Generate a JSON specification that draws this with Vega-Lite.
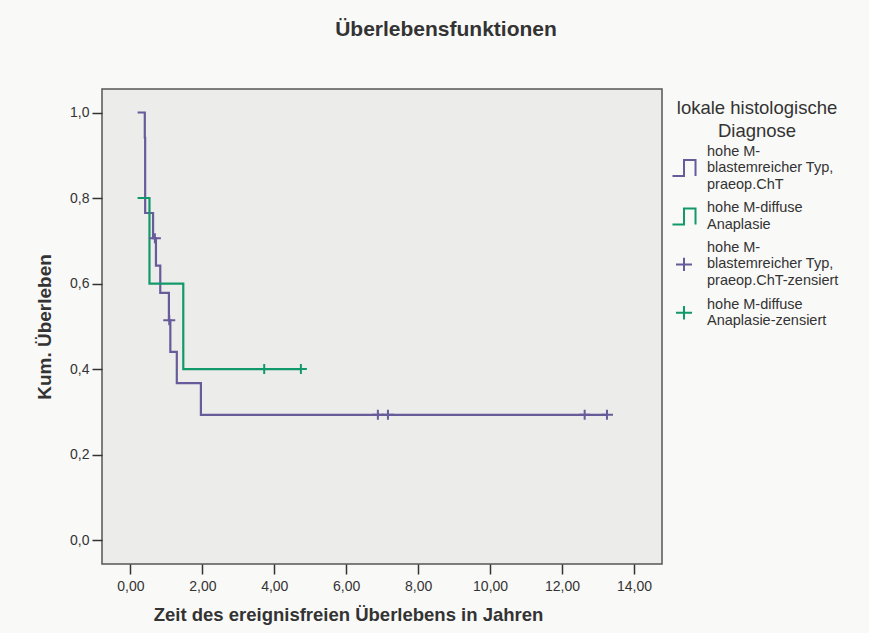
{
  "$schema": "https://vega.github.io/schema/vega-lite/v6.json",
  "autosize": "none",
  "width": 560,
  "height": 475,
  "padding": {"left": 102, "top": 89, "right": 207, "bottom": 69},
  "background": "#f9f9f7",
  "title": {
    "text": "Überlebensfunktionen",
    "font": "Liberation Sans",
    "fontSize": 21,
    "fontWeight": "bold",
    "color": "#333333",
    "anchor": "middle",
    "dx": 64,
    "offset": 49
  },
  "data": {
    "values": [
      {"t": 0.20, "s": 1.0, "series": "blast", "kind": "line"},
      {"t": 0.40, "s": 0.941, "series": "blast", "kind": "line"},
      {"t": 0.41, "s": 0.765, "series": "blast", "kind": "line"},
      {"t": 0.63, "s": 0.706, "series": "blast", "kind": "line"},
      {"t": 0.71, "s": 0.642, "series": "blast", "kind": "line"},
      {"t": 0.83, "s": 0.578, "series": "blast", "kind": "line"},
      {"t": 1.07, "s": 0.514, "series": "blast", "kind": "line"},
      {"t": 1.11, "s": 0.440, "series": "blast", "kind": "line"},
      {"t": 1.29, "s": 0.367, "series": "blast", "kind": "line"},
      {"t": 1.96, "s": 0.293, "series": "blast", "kind": "line"},
      {"t": 13.25, "s": 0.293, "series": "blast", "kind": "line"},
      {"t": 0.20, "s": 0.8, "series": "diffus", "kind": "line"},
      {"t": 0.53, "s": 0.6, "series": "diffus", "kind": "line"},
      {"t": 1.47, "s": 0.4, "series": "diffus", "kind": "line"},
      {"t": 4.74, "s": 0.4, "series": "diffus", "kind": "line"},
      {"t": 0.68, "s": 0.706, "series": "blast-z", "kind": "censor"},
      {"t": 1.08, "s": 0.514, "series": "blast-z", "kind": "censor"},
      {"t": 6.88, "s": 0.293, "series": "blast-z", "kind": "censor"},
      {"t": 7.16, "s": 0.293, "series": "blast-z", "kind": "censor"},
      {"t": 12.63, "s": 0.293, "series": "blast-z", "kind": "censor"},
      {"t": 13.25, "s": 0.293, "series": "blast-z", "kind": "censor"},
      {"t": 3.72, "s": 0.4, "series": "diffus-z", "kind": "censor"},
      {"t": 4.74, "s": 0.4, "series": "diffus-z", "kind": "censor"}
    ]
  },
  "config": {
    "font": "Liberation Sans",
    "view": {"fill": "#ececea", "stroke": "#555555", "strokeWidth": 1.5},
    "axis": {
      "grid": false,
      "domain": false,
      "tickSize": 10,
      "tickColor": "#333333",
      "tickWidth": 1.5,
      "labelFont": "Liberation Sans",
      "labelFontSize": 14,
      "labelColor": "#333333",
      "titleFont": "Liberation Sans",
      "titleFontWeight": "bold",
      "titleColor": "#333333"
    },
    "legend": {
      "orient": "none",
      "legendX": 573,
      "legendY": 10,
      "padding": 0,
      "titleAnchor": "middle",
      "titleFont": "Liberation Sans",
      "titleFontSize": 18.5,
      "titleFontWeight": "normal",
      "titleColor": "#333333",
      "titleLineHeight": 23,
      "titlePadding": 2,
      "labelFont": "Liberation Sans",
      "labelFontSize": 14.5,
      "labelColor": "#333333",
      "labelOffset": 14,
      "labelLimit": 200,
      "symbolSize": 256,
      "symbolStrokeWidth": 2,
      "rowPadding": 7.7
    }
  },
  "layer": [
    {
      "transform": [{"filter": "datum.kind == 'line'"}],
      "mark": {"type": "line", "interpolate": "step-after", "strokeWidth": 2.2},
      "encoding": {
        "x": {
          "field": "t",
          "type": "quantitative",
          "scale": {"domain": [-0.79, 14.78], "nice": false, "zero": false},
          "axis": {
            "values": [0, 2, 4, 6, 8, 10, 12, 14],
            "labelExpr": "replace(format(datum.value, '.2f'), '.', ',')",
            "labelPadding": 5,
            "title": "Zeit des ereignisfreien Überlebens in Jahren",
            "titleFontSize": 18.5,
            "titlePadding": 12,
            "titleX": 246
          }
        },
        "y": {
          "field": "s",
          "type": "quantitative",
          "scale": {"domain": [-0.056, 1.055], "nice": false, "zero": false},
          "axis": {
            "values": [0, 0.2, 0.4, 0.6, 0.8, 1.0],
            "labelExpr": "replace(format(datum.value, '.1f'), '.', ',')",
            "labelPadding": 3,
            "title": "Kum. Überleben",
            "titleFontSize": 19,
            "titlePadding": 15
          }
        },
        "color": {"field": "series", "type": "nominal"}
      }
    },
    {
      "transform": [{"filter": "datum.kind == 'censor'"}],
      "mark": {
        "type": "point",
        "shape": "M-1,0H1M0,-0.84V0.84",
        "filled": false,
        "strokeWidth": 2,
        "size": 144,
        "opacity": 1
      },
      "encoding": {
        "x": {"field": "t", "type": "quantitative"},
        "y": {"field": "s", "type": "quantitative"},
        "color": {"field": "series", "type": "nominal"}
      }
    },
    {
      "transform": [{"filter": "false"}],
      "mark": {"type": "point", "filled": false, "strokeWidth": 2, "size": 144, "opacity": 1},
      "encoding": {
        "x": {"field": "t", "type": "quantitative"},
        "y": {"field": "s", "type": "quantitative"},
        "color": {
          "field": "series",
          "type": "nominal",
          "scale": {
            "domain": ["blast", "diffus", "blast-z", "diffus-z"],
            "range": ["#675b9a", "#12996b", "#675b9a", "#12996b"]
          },
          "legend": {
            "title": ["lokale histologische", "Diagnose"],
            "labelExpr": "datum.value == 'blast' ? ['hohe M-', 'blastemreicher Typ,', 'praeop.ChT'] : datum.value == 'diffus' ? ['hohe M-diffuse', 'Anaplasie'] : datum.value == 'blast-z' ? ['hohe M-', 'blastemreicher Typ,', 'praeop.ChT-zensiert'] : ['hohe M-diffuse', 'Anaplasie-zensiert']"
          }
        },
        "shape": {
          "field": "series",
          "type": "nominal",
          "scale": {
            "domain": ["blast", "diffus", "blast-z", "diffus-z"],
            "range": [
              "M-1.44,3.06H0V1.06H1.44V3.06",
              "M-1.44,2.03H0V0.03H1.44V2.03",
              "M-1,2.06H1M0,1.22V2.9",
              "M-1,1.03H1M0,0.19V1.87"
            ]
          },
          "legend": {
            "title": ["lokale histologische", "Diagnose"],
            "labelExpr": "datum.value == 'blast' ? ['hohe M-', 'blastemreicher Typ,', 'praeop.ChT'] : datum.value == 'diffus' ? ['hohe M-diffuse', 'Anaplasie'] : datum.value == 'blast-z' ? ['hohe M-', 'blastemreicher Typ,', 'praeop.ChT-zensiert'] : ['hohe M-diffuse', 'Anaplasie-zensiert']"
          }
        }
      }
    }
  ]
}
